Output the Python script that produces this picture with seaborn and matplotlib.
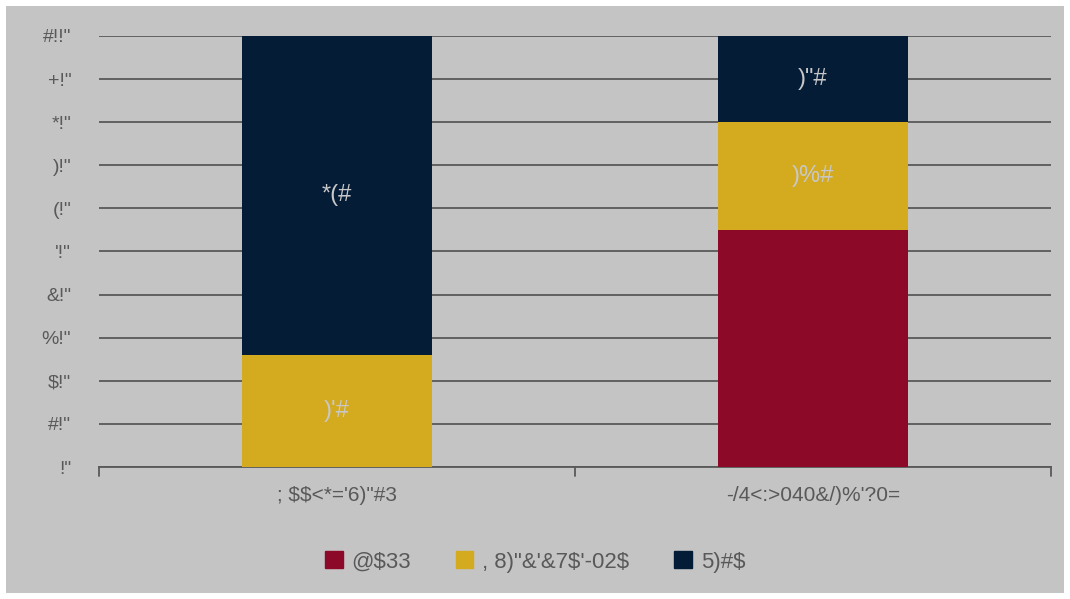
import matplotlib
matplotlib.use("Agg")
import matplotlib.pyplot as plt
import matplotlib.patches as mpatches
import seaborn as sns
import pandas as pd
import numpy as np

categories = ["; $$<*='6)\"#3", "-/4<:>040&/)%'?0="]
series_names = ["@$33", ", 8)\"&'&7$'-02$", "5)#$"]
red_vals = [0, 55]
yellow_vals = [26, 25]
navy_vals = [74, 20]
label_texts = {
    (1, 0): ")'#", (2, 0): "*(#",
    (1, 1): ")%#", (2, 1): ")\"#",
}
tick_vals = [0, 10, 20, 30, 40, 50, 60, 70, 80, 90, 100]
tick_labels = ['!"', '#!"', '$!"', '%!"', '&!"', "'!\"", '(!"', ')!"', '*!"', '+!"', '#!!"']
colors = ["#8C0A28", "#D4AA1E", "#051C37"]

sns.set_style("white")
plt.rcParams['font.family'] = ['Liberation Sans', 'DejaVu Sans']
plt.rcParams['text.parse_math'] = False

fig = plt.figure(figsize=(10.7, 5.99), dpi=100, facecolor="white")
fig.patches.append(mpatches.Rectangle((6/1070, 6/599), 1058/1070, 587/599,
                                      transform=fig.transFigure, facecolor="#C4C4C4",
                                      edgecolor="none", zorder=-10))
ax = fig.add_axes([99/1070, 1 - 467/599, 952/1070, 431/599])
ax.set_facecolor("none")

df = pd.DataFrame({"cat": categories, "red": red_vals, "yellow": yellow_vals, "navy": navy_vals})
bottoms = np.zeros(len(categories))
series = [df["red"].values, df["yellow"].values, df["navy"].values]
for i, vals in enumerate(series):
    sns.barplot(x=categories, y=vals, bottom=bottoms, color=colors[i], width=0.4,
                ax=ax, saturation=1, zorder=3, linewidth=0, edgecolor="none")
    bottoms = bottoms + vals

# labels
cum = np.zeros(len(categories))
for i, vals in enumerate(series):
    for j, v in enumerate(vals):
        key = (i, j)
        if key in label_texts and v > 0:
            ax.text(j, cum[j] + v / 2, label_texts[key], ha="center", va="center",
                    color="#C8C8C8", fontsize=17, zorder=5)
    cum = cum + vals

ax.set_ylim(0, 100)
ax.set_xlim(-0.5, 1.5)
ax.set_yticks(tick_vals)
ax.set_yticklabels(tick_labels, fontsize=14, color="#595959")
ax.yaxis.grid(True, color="#595959", linewidth=1.3, zorder=0)
ax.set_axisbelow(True)
ax.tick_params(axis="y", length=0, pad=20)
ax.tick_params(axis="x", length=0, pad=14, labelsize=15, labelcolor="#595959")
for s in ["top", "right", "left"]:
    ax.spines[s].set_visible(False)
ax.spines["bottom"].set_color("#595959")
ax.spines["bottom"].set_linewidth(1.3)
for xv in [-0.5, 0.5, 1.5]:
    ax.plot([xv, xv], [0, -2], color="#595959", lw=1.3, clip_on=False, zorder=4)
ax.set_xlabel("")
ax.set_ylabel("")

handles = [mpatches.Patch(color=c, label=n) for c, n in zip(colors, series_names)]
leg = fig.legend(handles=handles, loc="center", bbox_to_anchor=(0.5, 1 - 562/599),
                 ncol=3, frameon=False, fontsize=16, handlelength=0.8, handleheight=0.8,
                 handletextpad=0.4, columnspacing=2.0, labelcolor="#595959")

fig.savefig("out.png", dpi=100, facecolor="white")
